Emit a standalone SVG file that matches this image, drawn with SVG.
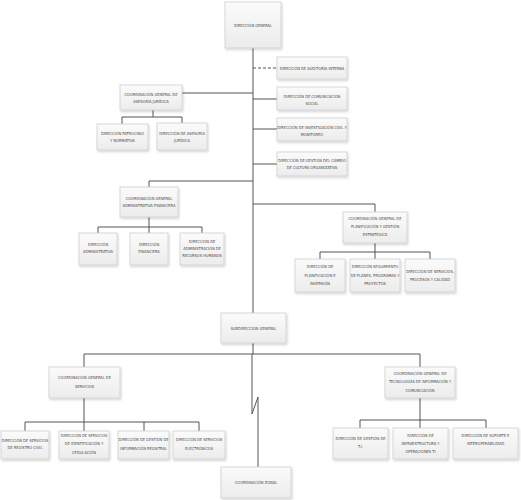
<svg xmlns="http://www.w3.org/2000/svg" width="521" height="500" viewBox="0 0 521 500">
<style>
.b{fill:url(#g);stroke:#cfcfcf;stroke-width:0.8;filter:url(#sh)}
.t{font-family:"Liberation Sans Narrow","DejaVu Sans Condensed","Liberation Sans",sans-serif;font-size:4px;fill:#4a4a4a;text-anchor:middle}
.c{fill:none;stroke:#555;stroke-width:1}
.d{stroke-dasharray:3,2}
</style>
<defs>
<linearGradient id="g" x1="0" y1="0" x2="0" y2="1"><stop offset="0" stop-color="#fbfbfb"/><stop offset="1" stop-color="#ececec"/></linearGradient>
<filter id="sh" x="-20%" y="-20%" width="140%" height="150%"><feDropShadow dx="1" dy="1.5" stdDeviation="1" flood-color="#000" flood-opacity="0.18"/></filter>
</defs>
<rect width="521" height="500" fill="#fff"/>
<g id="connectors">
<path class="c" d="M253,48V313"/>
<path class="c d" d="M253,68H277"/>
<path class="c" d="M253,99H277M253,129H277M253,164H277"/>
<path class="c" d="M253,93H182"/>
<path class="c" d="M153,110V117M122,117H182M122,117V124M182,117V123"/>
<path class="c" d="M253,181H149V187"/>
<path class="c" d="M149,217V227M98,227H202M98,227V233M149,227V233M202,227V233"/>
<path class="c" d="M253,204H375V212"/>
<path class="c" d="M375,243V252M320,252H430M320,252V259M375,252V259M430,252V259"/>
<path class="c" d="M253,343V354M84,354H420M84,354V367M420,354V367"/>
<path class="c" d="M252,354V414L258,397V467"/>
<path class="c" d="M84,398V422M25,422H199M25,422V431M84,422V431M144,422V431M199,422V431"/>
<path class="c" d="M420,398V420M360,420H486M360,420V428M420,420V428M486,420V428"/>
</g>
<g id="n1"><rect class="b" x="225" y="2" width="56" height="46"/><text class="t" x="253" y="26.5">DIRECCIÓN GENERAL</text></g>
<g id="n2"><rect class="b" x="277" y="57" width="70" height="22"/><text class="t" x="312" y="69.5">DIRECCIÓN DE AUDITORÍA INTERNA</text></g>
<g id="n3"><rect class="b" x="277" y="87" width="70" height="23"/><text class="t" x="312" y="97.5">DIRECCIÓN DE COMUNICACIÓN</text><text class="t" x="312" y="104.5">SOCIAL</text></g>
<g id="n4"><rect class="b" x="277" y="118" width="70" height="23"/><text class="t" x="312" y="128.5">DIRECCIÓN DE INVESTIGACIÓN CIVIL Y</text><text class="t" x="312" y="135.5">MONITOREO</text></g>
<g id="n5"><rect class="b" x="277" y="152" width="70" height="24"/><text class="t" x="312" y="161.5">DIRECCIÓN DE GESTIÓN DEL CAMBIO</text><text class="t" x="312" y="169">DE CULTURA ORGANIZATIVA</text></g>
<g id="n6"><rect class="b" x="120" y="85" width="62" height="25"/><text class="t" x="151" y="95.5">COORDINACIÓN GENERAL DE</text><text class="t" x="151" y="102.5">ASESORÍA JURÍDICA</text></g>
<g id="n7"><rect class="b" x="97" y="124" width="51" height="26"/><text class="t" x="122.5" y="135">DIRECCIÓN PATROCINIO</text><text class="t" x="122.5" y="142">Y NORMATIVA</text></g>
<g id="n8"><rect class="b" x="157" y="123" width="50" height="27"/><text class="t" x="182" y="134.5">DIRECCIÓN DE ASESORÍA</text><text class="t" x="182" y="141.5">JURÍDICA</text></g>
<g id="n9"><rect class="b" x="120" y="187" width="58" height="30"/><text class="t" x="149" y="199.5">COORDINACIÓN GENERAL</text><text class="t" x="149" y="206.5">ADMINISTRATIVA FINANCIERA</text></g>
<g id="n10"><rect class="b" x="79" y="233" width="38" height="32"/><text class="t" x="98" y="246">DIRECCIÓN</text><text class="t" x="98" y="253">ADMINISTRATIVA</text></g>
<g id="n11"><rect class="b" x="130" y="233" width="38" height="32"/><text class="t" x="149" y="246">DIRECCIÓN</text><text class="t" x="149" y="253">FINANCIERA</text></g>
<g id="n12"><rect class="b" x="180" y="233" width="44" height="32"/><text class="t" x="202" y="242.5">DIRECCIÓN DE</text><text class="t" x="202" y="249.5">ADMINISTRACION DE</text><text class="t" x="202" y="256.5">RECURSOS HUMANOS</text></g>
<g id="n13"><rect class="b" x="343" y="212" width="64" height="31"/><text class="t" x="375" y="220">COORDINACIÓN GENERAL DE</text><text class="t" x="375" y="228">PLANIFICACIÓN Y GESTIÓN</text><text class="t" x="375" y="236">ESTRATÉGICA</text></g>
<g id="n14"><rect class="b" x="295" y="259" width="50" height="33"/><text class="t" x="320" y="268">DIRECCIÓN DE</text><text class="t" x="320" y="276.5">PLANIFICACIÓN E</text><text class="t" x="320" y="285">INVERSIÓN</text></g>
<g id="n15"><rect class="b" x="350" y="259" width="50" height="33"/><text class="t" x="375" y="268">DIRECCIÓN SEGUIMIENTO</text><text class="t" x="375" y="276.5">DE PLANES, PROGRAMAS Y</text><text class="t" x="375" y="285">PROYECTOS</text></g>
<g id="n16"><rect class="b" x="405" y="259" width="50" height="33"/><text class="t" x="430" y="273">DIRECCIÓN DE SERVICIOS,</text><text class="t" x="430" y="281">PROCESOS Y CALIDAD</text></g>
<g id="n17"><rect class="b" x="221" y="313" width="65" height="30"/><text class="t" x="253.5" y="330">SUBDIRECCIÓN GENERAL</text></g>
<g id="n18"><rect class="b" x="49" y="367" width="71" height="31"/><text class="t" x="84.5" y="379">COORDINACIÓN GENERAL DE</text><text class="t" x="84.5" y="387.5">SERVICIOS</text></g>
<g id="n19"><rect class="b" x="1" y="431" width="48" height="28"/><text class="t" x="25" y="441.5">DIRECCIÓN DE SERVICIOS</text><text class="t" x="25" y="449">DE REGISTRO CIVIL</text></g>
<g id="n20"><rect class="b" x="59" y="431" width="50" height="28"/><text class="t" x="84" y="437">DIRECCIÓN DE SERVICIOS</text><text class="t" x="84" y="445">DE IDENTIFICACIÓN Y</text><text class="t" x="84" y="453.5">CEDULACIÓN</text></g>
<g id="n21"><rect class="b" x="118" y="431" width="51" height="28"/><text class="t" x="143.5" y="441">DIRECCIÓN DE GESTIÓN DE</text><text class="t" x="143.5" y="449.5">INFORMACIÓN REGISTRAL</text></g>
<g id="n22"><rect class="b" x="173" y="431" width="52" height="28"/><text class="t" x="199" y="441">DIRECCIÓN DE SERVICIOS</text><text class="t" x="199" y="449.5">ELECTRÓNICOS</text></g>
<g id="n23"><rect class="b" x="385" y="367" width="70" height="31"/><text class="t" x="420" y="374.5">COORDINACIÓN GENERAL DE</text><text class="t" x="420" y="383">TECNOLOGÍAS DE INFORMACIÓN Y</text><text class="t" x="420" y="391.5">COMUNICACIÓN</text></g>
<g id="n24"><rect class="b" x="333" y="428" width="55" height="31"/><text class="t" x="360.5" y="440">DIRECCIÓN DE GESTIÓN DE</text><text class="t" x="360.5" y="448">T.I.</text></g>
<g id="n25"><rect class="b" x="393" y="428" width="55" height="31"/><text class="t" x="420.5" y="436.5">DIRECCIÓN DE</text><text class="t" x="420.5" y="444.5">INFRAESTRUCTURA Y</text><text class="t" x="420.5" y="453">OPERACIONES TI</text></g>
<g id="n26"><rect class="b" x="453" y="428" width="65" height="31"/><text class="t" x="485.5" y="437">DIRECCIÓN DE SOPORTE E</text><text class="t" x="485.5" y="445">INTEROPERABILIDAD</text></g>
<g id="n27"><rect class="b" x="221" y="467" width="70" height="31"/><text class="t" x="256" y="484">COORDINACIÓN ZONAL</text></g>
</svg>
